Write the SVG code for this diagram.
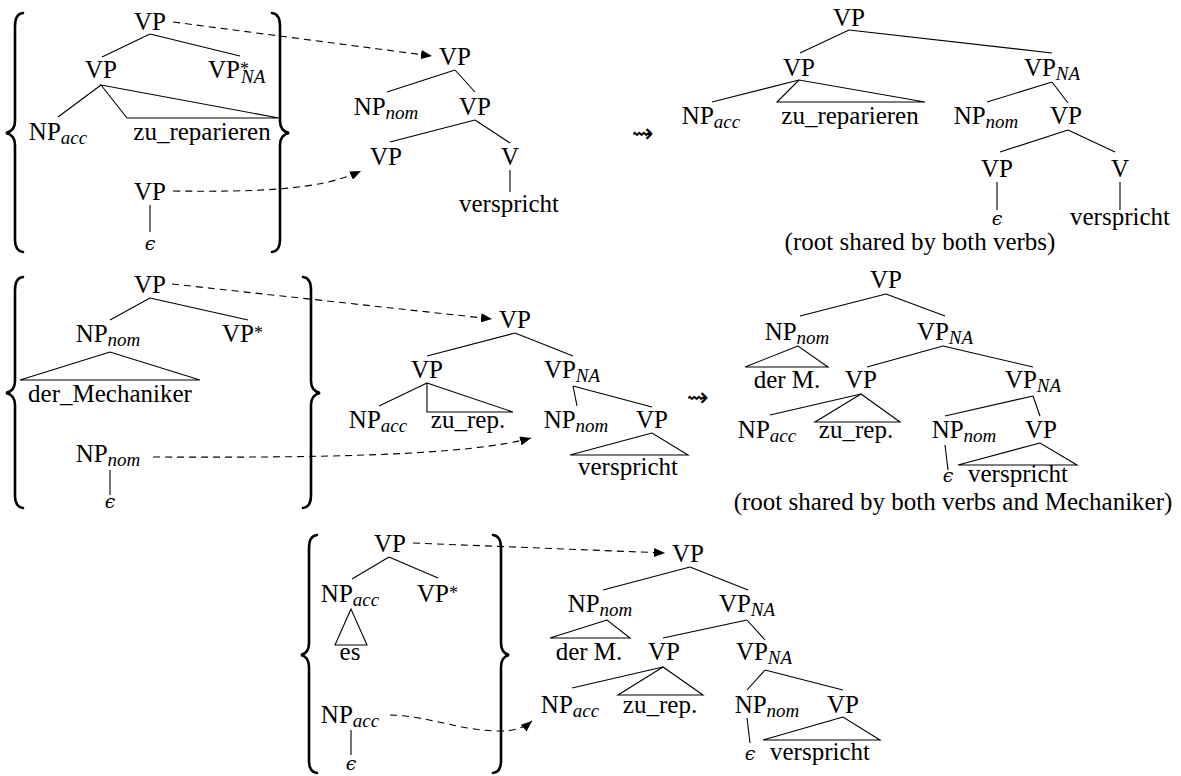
<svg xmlns="http://www.w3.org/2000/svg" width="1181" height="776" viewBox="0 0 1181 776">
<defs>
<style>
.t{font-family:"Liberation Serif","DejaVu Serif",serif;font-size:25px;fill:#000;text-anchor:middle}
.ts{text-anchor:start}
.s{font-size:19px;font-style:italic}
.st{font-size:18px;font-style:normal}
.e{font-family:"DejaVu Serif","Liberation Serif",serif;font-style:italic;font-size:19px;fill:#000;text-anchor:middle}
.lt{font-family:"DejaVu Sans",sans-serif;font-size:26px;fill:#000;text-anchor:middle}
.l{stroke:#000;stroke-width:1.1;fill:none}
.d{stroke:#000;stroke-width:1.1;fill:none;stroke-dasharray:7 5;marker-end:url(#ah)}
.b{stroke:#000;stroke-width:2.6;fill:none;stroke-linecap:round}
</style>
<marker id="ah" markerWidth="11" markerHeight="9" refX="11" refY="4.5" orient="auto" markerUnits="userSpaceOnUse">
<path d="M0,0 L11,4.5 L0,9 z" fill="#000"/>
</marker>
</defs>
<rect width="1181" height="776" fill="#fff"/>

<!-- braces -->
<g id="braces">
<path class="b" d="M23 13 Q15 14 15 26 L15 121 Q15 131 6 133 Q15 135 15 145 L15 240 Q15 251 23 252"/>
<path class="b" d="M272 13 Q280 14 280 26 L280 121 Q280 131 289 133 Q280 135 280 145 L280 240 Q280 251 272 252"/>
<path class="b" d="M23 277 Q15 278 15 290 L15 381 Q15 391 6 393 Q15 395 15 405 L15 496 Q15 507 23 508"/>
<path class="b" d="M303 277 Q311 278 311 290 L311 381 Q311 391 320 393 Q311 395 311 405 L311 496 Q311 507 303 508"/>
<path class="b" d="M317 535 Q309 536 309 548 L309 643 Q309 653 301 655 Q309 657 309 667 L309 761 Q309 772 317 773"/>
<path class="b" d="M493 535 Q501 536 501 548 L501 643 Q501 653 509 655 Q501 657 501 667 L501 761 Q501 772 493 773"/>
</g>

<!-- connectors -->
<g id="connectors">
<!-- panel 1 left -->
<line class="l" x1="150" y1="34" x2="102" y2="57"/>
<line class="l" x1="150" y1="34" x2="240" y2="56"/>
<line class="l" x1="101" y1="85" x2="58" y2="117"/>
<polygon class="l" points="101,85 127,118 279,118"/>
<line class="l" x1="150" y1="205" x2="150" y2="232"/>
<!-- panel 1 middle -->
<line class="l" x1="455" y1="70" x2="387" y2="92"/>
<line class="l" x1="455" y1="70" x2="475" y2="92"/>
<line class="l" x1="475" y1="120" x2="390" y2="142"/>
<line class="l" x1="475" y1="120" x2="510" y2="143"/>
<line class="l" x1="510" y1="170" x2="510" y2="192"/>
<!-- panel 1 right -->
<line class="l" x1="849" y1="30" x2="800" y2="53"/>
<line class="l" x1="849" y1="30" x2="1052" y2="53"/>
<line class="l" x1="799" y1="80" x2="712" y2="102"/>
<polygon class="l" points="799,80 777,102 925,102"/>
<line class="l" x1="1052" y1="82" x2="987" y2="102"/>
<line class="l" x1="1052" y1="82" x2="1068" y2="103"/>
<line class="l" x1="1068" y1="130" x2="1000" y2="152"/>
<line class="l" x1="1068" y1="130" x2="1115" y2="152"/>
<line class="l" x1="997" y1="182" x2="997" y2="210"/>
<line class="l" x1="1120" y1="182" x2="1120" y2="210"/>
<!-- panel 2 left -->
<line class="l" x1="150" y1="298" x2="110" y2="320"/>
<line class="l" x1="150" y1="298" x2="248" y2="320"/>
<polygon class="l" points="110,352 20,380 200,380"/>
<line class="l" x1="110" y1="470" x2="110" y2="495"/>
<!-- panel 2 middle -->
<line class="l" x1="515" y1="333" x2="427" y2="356"/>
<line class="l" x1="515" y1="333" x2="573" y2="356"/>
<line class="l" x1="427" y1="383" x2="379" y2="406"/>
<polygon class="l" points="427,383 427,412 513,412"/>
<line class="l" x1="573" y1="386" x2="577" y2="406"/>
<line class="l" x1="573" y1="386" x2="652" y2="407"/>
<polygon class="l" points="652,433 570,455 688,455"/>
<!-- panel 2 right -->
<line class="l" x1="886" y1="294" x2="800" y2="316"/>
<line class="l" x1="886" y1="294" x2="945" y2="316"/>
<polygon class="l" points="798,346 745,367 828,367"/>
<line class="l" x1="943" y1="346" x2="867" y2="367"/>
<line class="l" x1="943" y1="346" x2="1033" y2="367"/>
<line class="l" x1="861" y1="394" x2="770" y2="415"/>
<polygon class="l" points="861,394 815,422 900,422"/>
<line class="l" x1="1033" y1="396" x2="945" y2="416"/>
<line class="l" x1="1033" y1="396" x2="1040" y2="416"/>
<line class="l" x1="945" y1="445" x2="948" y2="470"/>
<polygon class="l" points="1040,443 958,465 1077,465"/>
<!-- panel 3 left -->
<line class="l" x1="389" y1="557" x2="352" y2="579"/>
<line class="l" x1="389" y1="557" x2="438" y2="578"/>
<polygon class="l" points="351,609 335,645 367,645"/>
<line class="l" x1="351" y1="730" x2="351" y2="755"/>
<!-- panel 3 middle -->
<line class="l" x1="690" y1="567" x2="603" y2="590"/>
<line class="l" x1="690" y1="567" x2="748" y2="590"/>
<polygon class="l" points="607,620 550,638 630,638"/>
<line class="l" x1="747" y1="620" x2="663" y2="638"/>
<line class="l" x1="747" y1="620" x2="765" y2="640"/>
<line class="l" x1="663" y1="667" x2="572" y2="688"/>
<polygon class="l" points="663,667 618,695 703,695"/>
<line class="l" x1="765" y1="670" x2="747" y2="690"/>
<line class="l" x1="765" y1="670" x2="843" y2="690"/>
<line class="l" x1="747" y1="718" x2="750" y2="743"/>
<polygon class="l" points="843,717 763,740 880,740"/>
<!-- dashed substitution arrows -->
<path class="d" d="M173 22 L432 56"/>
<path class="d" d="M173 191 C260 192 320 190 361 171"/>
<path class="d" d="M172 284 L492 319"/>
<path class="d" d="M153 457 C330 458 470 455 531 438"/>
<path class="d" d="M413 543 L665 553"/>
<path class="d" d="M390 715 C430 716 460 731 500 731 C515 731 525 727 532 721"/>
</g>

<!-- panel 1 left nodes -->
<g id="p1l-vp"><text class="t" x="150" y="30">VP</text></g>
<g id="p1l-vp2"><text class="t" x="101" y="78">VP</text></g>
<g id="p1l-vpna"><text class="t ts" x="208" y="78">VP<tspan class="st" dy="-3">*</tspan><tspan class="s" dx="-8" dy="8">NA</tspan></text></g>
<g id="p1l-npacc"><text class="t" x="58" y="140">NP<tspan class="s" dy="4">acc</tspan></text></g>
<g id="p1l-zu"><text class="t" x="202" y="140">zu_reparieren</text></g>
<g id="p1l-vp3"><text class="t" x="150" y="200">VP</text></g>
<g id="p1l-eps"><text class="e" x="150" y="250">ϵ</text></g>

<!-- panel 1 middle nodes -->
<g id="p1m-vp"><text class="t" x="455" y="65">VP</text></g>
<g id="p1m-npnom"><text class="t" x="386" y="115">NP<tspan class="s" dy="4">nom</tspan></text></g>
<g id="p1m-vp2"><text class="t" x="475" y="115">VP</text></g>
<g id="p1m-vp3"><text class="t" x="386" y="165">VP</text></g>
<g id="p1m-v"><text class="t" x="510" y="165">V</text></g>
<g id="p1m-versp"><text class="t" x="509" y="212">verspricht</text></g>

<g id="leadsto1"><text class="lt" x="643" y="142">⇝</text></g>

<!-- panel 1 right nodes -->
<g id="p1r-vp"><text class="t" x="849" y="26">VP</text></g>
<g id="p1r-vp2"><text class="t" x="799" y="76">VP</text></g>
<g id="p1r-vpna"><text class="t" x="1052" y="76">VP<tspan class="s" dy="4">NA</tspan></text></g>
<g id="p1r-npacc"><text class="t" x="711" y="124">NP<tspan class="s" dy="4">acc</tspan></text></g>
<g id="p1r-zu"><text class="t" x="850" y="124">zu_reparieren</text></g>
<g id="p1r-npnom"><text class="t" x="986" y="124">NP<tspan class="s" dy="4">nom</tspan></text></g>
<g id="p1r-vp3"><text class="t" x="1066" y="124">VP</text></g>
<g id="p1r-vp4"><text class="t" x="997" y="177">VP</text></g>
<g id="p1r-v"><text class="t" x="1120" y="177">V</text></g>
<g id="p1r-eps"><text class="e" x="997" y="225">ϵ</text></g>
<g id="p1r-versp"><text class="t" x="1120" y="225">verspricht</text></g>
<g id="p1r-cap"><text class="t" x="920" y="250">(root shared by both verbs)</text></g>

<!-- panel 2 left nodes -->
<g id="p2l-vp"><text class="t" x="150" y="293">VP</text></g>
<g id="p2l-npnom"><text class="t" x="108" y="342">NP<tspan class="s" dy="4">nom</tspan></text></g>
<g id="p2l-vpstar"><text class="t ts" x="222" y="342">VP<tspan class="st" dy="-3">*</tspan></text></g>
<g id="p2l-mech"><text class="t" x="110" y="402">der_Mechaniker</text></g>
<g id="p2l-npnom2"><text class="t" x="108" y="462">NP<tspan class="s" dy="4">nom</tspan></text></g>
<g id="p2l-eps"><text class="e" x="110" y="508">ϵ</text></g>

<!-- panel 2 middle nodes -->
<g id="p2m-vp"><text class="t" x="515" y="328">VP</text></g>
<g id="p2m-vp2"><text class="t" x="427" y="378">VP</text></g>
<g id="p2m-vpna"><text class="t" x="572" y="378">VP<tspan class="s" dy="4">NA</tspan></text></g>
<g id="p2m-npacc"><text class="t" x="378" y="428">NP<tspan class="s" dy="4">acc</tspan></text></g>
<g id="p2m-zu"><text class="t" x="468" y="428">zu_rep.</text></g>
<g id="p2m-npnom"><text class="t" x="576" y="428">NP<tspan class="s" dy="4">nom</tspan></text></g>
<g id="p2m-vp3"><text class="t" x="652" y="428">VP</text></g>
<g id="p2m-versp"><text class="t" x="628" y="475">verspricht</text></g>

<g id="leadsto2"><text class="lt" x="698" y="406">⇝</text></g>

<!-- panel 2 right nodes -->
<g id="p2r-vp"><text class="t" x="886" y="288">VP</text></g>
<g id="p2r-npnom"><text class="t" x="797" y="340">NP<tspan class="s" dy="4">nom</tspan></text></g>
<g id="p2r-vpna"><text class="t" x="945" y="340">VP<tspan class="s" dy="4">NA</tspan></text></g>
<g id="p2r-derm"><text class="t" x="787" y="388">der M.</text></g>
<g id="p2r-vp2"><text class="t" x="861" y="388">VP</text></g>
<g id="p2r-vpna2"><text class="t" x="1033" y="388">VP<tspan class="s" dy="4">NA</tspan></text></g>
<g id="p2r-npacc"><text class="t" x="767" y="438">NP<tspan class="s" dy="4">acc</tspan></text></g>
<g id="p2r-zu"><text class="t" x="856" y="438">zu_rep.</text></g>
<g id="p2r-npnom2"><text class="t" x="964" y="438">NP<tspan class="s" dy="4">nom</tspan></text></g>
<g id="p2r-vp3"><text class="t" x="1041" y="438">VP</text></g>
<g id="p2r-eps"><text class="e" x="948" y="482">ϵ</text></g>
<g id="p2r-versp"><text class="t" x="1018" y="482">verspricht</text></g>
<g id="p2r-cap"><text class="t" x="953" y="510">(root shared by both verbs and Mechaniker)</text></g>

<!-- panel 3 left nodes -->
<g id="p3l-vp"><text class="t" x="390" y="552">VP</text></g>
<g id="p3l-npacc"><text class="t" x="350" y="602">NP<tspan class="s" dy="4">acc</tspan></text></g>
<g id="p3l-vpstar"><text class="t ts" x="417" y="602">VP<tspan class="st" dy="-3">*</tspan></text></g>
<g id="p3l-es"><text class="t" x="350" y="660">es</text></g>
<g id="p3l-npacc2"><text class="t" x="350" y="723">NP<tspan class="s" dy="4">acc</tspan></text></g>
<g id="p3l-eps"><text class="e" x="351" y="770">ϵ</text></g>

<!-- panel 3 middle nodes -->
<g id="p3m-vp"><text class="t" x="688" y="562">VP</text></g>
<g id="p3m-npnom"><text class="t" x="600" y="612">NP<tspan class="s" dy="4">nom</tspan></text></g>
<g id="p3m-vpna"><text class="t" x="747" y="612">VP<tspan class="s" dy="4">NA</tspan></text></g>
<g id="p3m-derm"><text class="t" x="589" y="660">der M.</text></g>
<g id="p3m-vp2"><text class="t" x="664" y="660">VP</text></g>
<g id="p3m-vpna2"><text class="t" x="764" y="660">VP<tspan class="s" dy="4">NA</tspan></text></g>
<g id="p3m-npacc"><text class="t" x="570" y="713">NP<tspan class="s" dy="4">acc</tspan></text></g>
<g id="p3m-zu"><text class="t" x="660" y="713">zu_rep.</text></g>
<g id="p3m-npnom2"><text class="t" x="767" y="713">NP<tspan class="s" dy="4">nom</tspan></text></g>
<g id="p3m-vp3"><text class="t" x="843" y="713">VP</text></g>
<g id="p3m-eps"><text class="e" x="750" y="760">ϵ</text></g>
<g id="p3m-versp"><text class="t" x="820" y="760">verspricht</text></g>
</svg>
